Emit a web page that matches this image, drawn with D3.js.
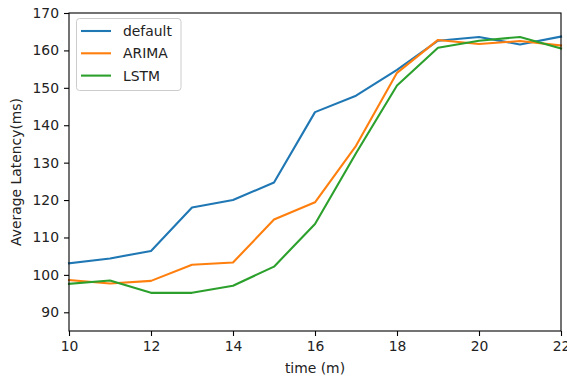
<!DOCTYPE html>
<html>
<head>
<meta charset="utf-8">
<script src="https://cdn.jsdelivr.net/npm/d3@7"></script>
<style>
  html, body { margin: 0; padding: 0; background: #fff; }
  svg { display: block; }
  text { font-family: "DejaVu Sans", sans-serif; fill: #222; }
</style>
</head>
<body>
<svg id="chart" width="567" height="381"></svg>
<script>
// Time in minutes
const times = [10, 11, 12, 13, 14, 15, 16, 17, 18, 19, 20, 21, 22];
// Average latency (ms) per strategy
const defaultLatency = [103.1, 104.4, 106.4, 118.0, 120.0, 124.7, 143.5, 147.9, 154.8, 162.6, 163.6, 161.6, 163.7];
const arimaLatency   = [98.6, 97.7, 98.4, 102.7, 103.3, 114.8, 119.4, 134.5, 154.0, 162.8, 161.7, 162.5, 161.3];
const lstmLatency    = [97.6, 98.5, 95.2, 95.2, 97.1, 102.2, 113.6, 132.5, 150.6, 160.7, 162.6, 163.6, 160.5];
const seriesNames = ["default", "ARIMA", "LSTM"];
const xTicks = [10, 12, 14, 16, 18, 20, 22];
const yTicks = [90, 100, 110, 120, 130, 140, 150, 160, 170];

const colors = ["#1f77b4", "#ff7f0e", "#2ca02c"];
const series = [defaultLatency, arimaLatency, lstmLatency];

const svg = d3.select("#chart");
const margin = { left: 69, right: 6, top: 13, bottom: 50 };
const W = 567, H = 381;

const x = d3.scaleLinear().domain([10, 22]).range([margin.left, W - margin.right]);
const y = d3.scaleLinear().domain([85, 170]).range([H - margin.bottom, margin.top]);

// Lines
const line = d3.line().x((d, i) => x(times[i])).y(d => y(d));
const plot = svg.append("g");
series.forEach((vals, k) => {
  plot.append("path")
    .datum(vals)
    .attr("d", line)
    .attr("fill", "none")
    .attr("stroke", colors[k])
    .attr("stroke-width", 2.1)
    .attr("stroke-linejoin", "round")
    .attr("stroke-linecap", "square");
});

// Frame
svg.append("rect")
  .attr("x", x(10)).attr("y", y(170))
  .attr("width", x(22) - x(10)).attr("height", y(85) - y(170))
  .attr("fill", "none").attr("stroke", "#000").attr("stroke-width", 1.1);

// Axes
const xAxis = svg.append("g")
  .attr("transform", `translate(0,${y(85)})`)
  .call(d3.axisBottom(x).tickValues(xTicks).tickSize(5).tickPadding(5).tickFormat(d3.format("d")));
const yAxis = svg.append("g")
  .attr("transform", `translate(${x(10)},0)`)
  .call(d3.axisLeft(y).tickValues(yTicks).tickSize(5).tickPadding(5).tickFormat(d3.format("d")));
[xAxis, yAxis].forEach(a => {
  a.select(".domain").remove();
  a.selectAll(".tick line").attr("stroke", "#000").attr("stroke-width", 1.1);
  a.selectAll(".tick text").style("font-size", "13.9px").style("font-family", "DejaVu Sans").attr("fill", "#222");
});

// Axis labels
svg.append("text")
  .attr("x", (x(10) + x(22)) / 2).attr("y", 373)
  .attr("text-anchor", "middle").style("font-size", "13.9px")
  .text("time (m)");
svg.append("text")
  .attr("transform", `translate(21,${(y(85) + y(170)) / 2}) rotate(-90)`)
  .attr("text-anchor", "middle").style("font-size", "13.9px")
  .text("Average Latency(ms)");

// Legend
const lg = svg.append("g");
lg.append("rect")
  .attr("x", 76.5).attr("y", 18.5).attr("width", 104.5).attr("height", 72)
  .attr("rx", 3).attr("ry", 3)
  .attr("fill", "#fff").attr("fill-opacity", 0.8)
  .attr("stroke", "#ccc").attr("stroke-width", 1);
seriesNames.forEach((name, k) => {
  const cy = 31 + k * 22.3;
  lg.append("line")
    .attr("x1", 81).attr("x2", 111).attr("y1", cy).attr("y2", cy)
    .attr("stroke", colors[k]).attr("stroke-width", 2.1);
  lg.append("text")
    .attr("x", 123).attr("y", cy + 5)
    .style("font-size", "13.9px")
    .text(name);
});
</script>
</body>
</html>
